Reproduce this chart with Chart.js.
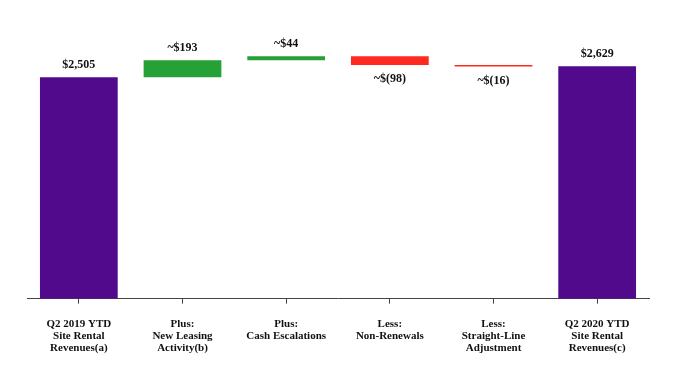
<!DOCTYPE html>
<html>
<head>
<meta charset="utf-8">
<script src="https://cdn.jsdelivr.net/npm/chart.js@4/dist/chart.umd.min.js"></script>
<style>
html,body{margin:0;padding:0;background:#fff;}
#wrap{width:682px;height:380px;position:relative;}
</style>
</head>
<body>
<div id="wrap"><canvas id="c"></canvas></div>
<script>
const categories = [
  ["Q2 2019 YTD","Site Rental","Revenues(a)"],
  ["Plus:","New Leasing","Activity(b)"],
  ["Plus:","Cash Escalations"],
  ["Less:","Non-Renewals"],
  ["Less:","Straight-Line","Adjustment"],
  ["Q2 2020 YTD","Site Rental","Revenues(c)"]
];
const values = [2505, 193, 44, -98, -16, 2629];
const isTotal = [true, false, false, false, false, true];
const valueLabels = ["$2,505","~$193","~$44","~$(98)","~$(16)","$2,629"];

const PURPLE = "#520a8c", GREEN = "#26a136", RED = "#ff2a1f";

// waterfall ranges built from the values
let running = 0;
const ranges = values.map((v,i)=>{
  if (isTotal[i]) { running = v; return [0, v]; }
  const start = running; running += v; return [start, running];
});
const colors = values.map((v,i)=> isTotal[i] ? PURPLE : (v >= 0 ? GREEN : RED));

const labelPlugin = {
  id: 'valueLabels',
  afterDatasetsDraw(chart){
    const ctx = chart.ctx;
    const meta = chart.getDatasetMeta(0);
    ctx.save();
    ctx.font = "bold 12px 'Liberation Serif', 'Times New Roman', serif";
    ctx.fillStyle = "#111";
    ctx.textAlign = "center";
    ctx.textBaseline = "middle";
    meta.data.forEach((bar,i)=>{
      const top = Math.min(bar.y, bar.base), bottom = Math.max(bar.y, bar.base);
      if (values[i] < 0) ctx.fillText(valueLabels[i], bar.x, bottom + 14);
      else ctx.fillText(valueLabels[i], bar.x, top - 12);
    });
    ctx.restore();
  }
};

new Chart(document.getElementById('c'), {
  type: 'bar',
  data: {
    labels: categories,
    datasets: [{
      data: ranges,
      backgroundColor: colors,
      borderWidth: 0,
      barPercentage: 0.75,
      categoryPercentage: 1.0
    }]
  },
  options: {
    responsive: true,
    maintainAspectRatio: false,
    devicePixelRatio: 1,
    animation: false,
    layout: { padding: { left: 27, right: 33, top: 30, bottom: 12 } },
    plugins: { legend: { display: false }, tooltip: { enabled: false } },
    scales: {
      x: {
        grid: { offset: false, drawOnChartArea: false, drawTicks: true, tickLength: 5, color: '#444' },
        border: { display: true, color: '#444', width: 1 },
        ticks: {
          color: '#111',
          padding: 14,
          maxRotation: 0,
          autoSkip: false,
          font: { family: "'Liberation Serif', 'Times New Roman', serif", size: 11, weight: 'bold', lineHeight: 1.1 }
        }
      },
      y: {
        display: false,
        min: 0,
        max: 3040
      }
    }
  },
  plugins: [labelPlugin]
});
</script>
</body>
</html>
